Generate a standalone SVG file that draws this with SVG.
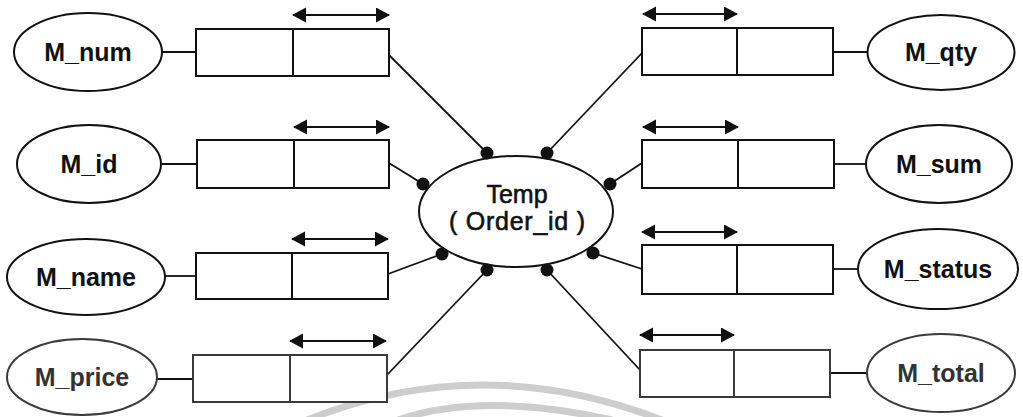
<svg xmlns="http://www.w3.org/2000/svg" width="1023" height="417" viewBox="0 0 1023 417">
<style>
  .bg{fill:#ffffff}
  .ell{fill:#ffffff;stroke:#111;stroke-width:2}
  .box{fill:#ffffff;stroke:#111;stroke-width:2}
  .div{stroke:#111;stroke-width:2}
  .ln{stroke:#111;stroke-width:1.8;fill:none}
  .arr{stroke:#111;stroke-width:2;fill:none;marker-start:url(#ah);marker-end:url(#ah)}
  .dot{fill:#111}
  .lbl{font-family:"Liberation Sans",Arial,sans-serif;font-size:25px;font-weight:bold;fill:#111;text-anchor:middle}
  .ctr{font-family:"Liberation Sans",Arial,sans-serif;font-size:25px;fill:#111;stroke:#111;stroke-width:0.6;text-anchor:middle}
  .gray .ell,.gray .box{stroke:#3a3a3a}
  .gray .div{stroke:#3a3a3a}
  .gray .lbl{fill:#333}
  .wm{fill:none;stroke:#cdcdcd;stroke-width:7}
</style>
<defs>
  <marker id="ah" markerUnits="userSpaceOnUse" markerWidth="15" markerHeight="16" refX="13" refY="7.5" orient="auto-start-reverse">
    <path d="M0,0 L14,7.5 L0,15 z" fill="#111"/>
  </marker>
</defs>
<rect class="bg" x="0" y="0" width="1023" height="417"/>

<g id="watermark">
  <path class="wm" d="M307,420 Q482,350 662,420"/>
  <path class="wm" d="M398,420 Q482,391 612,420"/>
</g>

<g id="connectors">
  <line class="ln" x1="162" y1="52" x2="196" y2="52"/>
  <line class="ln" x1="161" y1="164" x2="197" y2="164"/>
  <line class="ln" x1="165" y1="276" x2="196" y2="276"/>
  <line class="ln" x1="157" y1="379" x2="193" y2="379" stroke="#3a3a3a"/>
  <line class="ln" x1="833" y1="52" x2="868" y2="52"/>
  <line class="ln" x1="834" y1="164" x2="866" y2="164"/>
  <line class="ln" x1="833" y1="269" x2="858" y2="269"/>
  <line class="ln" x1="830" y1="373" x2="867" y2="373" stroke="#3a3a3a"/>
  <line class="ln" x1="389" y1="55" x2="487" y2="153"/>
  <line class="ln" x1="389" y1="163" x2="423" y2="184"/>
  <line class="ln" x1="388" y1="274" x2="442" y2="254"/>
  <line class="ln" x1="387" y1="375" x2="487" y2="270" stroke="#333"/>
  <line class="ln" x1="642" y1="53" x2="547" y2="153"/>
  <line class="ln" x1="642" y1="163" x2="610" y2="184"/>
  <line class="ln" x1="642" y1="269" x2="593" y2="253"/>
  <line class="ln" x1="640" y1="370" x2="547" y2="270" stroke="#333"/>
  <line class="arr" x1="293" y1="15" x2="389" y2="15"/>
  <line class="arr" x1="294" y1="127" x2="389" y2="127"/>
  <line class="arr" x1="292" y1="239" x2="388" y2="239"/>
  <line class="arr" x1="290" y1="341" x2="386" y2="341"/>
  <line class="arr" x1="643" y1="14" x2="737" y2="14"/>
  <line class="arr" x1="643" y1="127" x2="738" y2="127"/>
  <line class="arr" x1="642" y1="232" x2="737" y2="232"/>
  <line class="arr" x1="640" y1="335" x2="734" y2="335"/>
</g>

<g id="center">
  <ellipse class="ell" cx="516" cy="211.5" rx="97" ry="55.5"/>
  <text class="ctr" x="517" y="203">Temp</text>
  <text class="ctr" x="517" y="230" textLength="136" lengthAdjust="spacing">( Order_id )</text>
  <circle class="dot" cx="487" cy="153" r="6.5"/>
  <circle class="dot" cx="547" cy="153" r="6.5"/>
  <circle class="dot" cx="423" cy="184" r="6.5"/>
  <circle class="dot" cx="610" cy="184" r="6.5"/>
  <circle class="dot" cx="442" cy="254" r="6.5"/>
  <circle class="dot" cx="593" cy="253" r="6.5"/>
  <circle class="dot" cx="487" cy="270" r="6.5"/>
  <circle class="dot" cx="547" cy="270" r="6.5"/>
</g>

<g id="node-M_num">
  <ellipse class="ell" cx="88" cy="52" rx="74" ry="39"/>
  <text class="lbl" x="88" y="61">M_num</text>
</g>
<g id="box-M_num">
  <rect class="box" x="196" y="29" width="193" height="47"/>
  <line class="div" x1="293" y1="29" x2="293" y2="76"/>
</g>

<g id="node-M_id">
  <ellipse class="ell" cx="89" cy="164" rx="72" ry="39"/>
  <text class="lbl" x="89" y="173">M_id</text>
</g>
<g id="box-M_id">
  <rect class="box" x="197" y="140" width="192" height="48"/>
  <line class="div" x1="294" y1="140" x2="294" y2="188"/>
</g>

<g id="node-M_name">
  <ellipse class="ell" cx="86" cy="277" rx="79" ry="38"/>
  <text class="lbl" x="86" y="286">M_name</text>
</g>
<g id="box-M_name">
  <rect class="box" x="196" y="253" width="192" height="46"/>
  <line class="div" x1="292" y1="253" x2="292" y2="299"/>
</g>

<g id="node-M_price" class="gray">
  <ellipse class="ell" cx="82" cy="377" rx="75" ry="38"/>
  <text class="lbl" x="82" y="386">M_price</text>
</g>
<g id="box-M_price" class="gray">
  <rect class="box" x="193" y="355" width="194" height="47"/>
  <line class="div" x1="290" y1="355" x2="290" y2="402"/>
</g>

<g id="node-M_qty">
  <ellipse class="ell" cx="941" cy="52.5" rx="73.5" ry="37.5"/>
  <text class="lbl" x="941" y="61">M_qty</text>
</g>
<g id="box-M_qty">
  <rect class="box" x="642" y="28" width="191" height="47"/>
  <line class="div" x1="737" y1="28" x2="737" y2="75"/>
</g>

<g id="node-M_sum">
  <ellipse class="ell" cx="939" cy="164" rx="73" ry="39"/>
  <text class="lbl" x="939" y="173">M_sum</text>
</g>
<g id="box-M_sum">
  <rect class="box" x="642" y="140" width="192" height="48"/>
  <line class="div" x1="738" y1="140" x2="738" y2="188"/>
</g>

<g id="node-M_status">
  <ellipse class="ell" cx="938" cy="269" rx="80" ry="40"/>
  <text class="lbl" x="938" y="278">M_status</text>
</g>
<g id="box-M_status">
  <rect class="box" x="642" y="245" width="191" height="49"/>
  <line class="div" x1="737" y1="245" x2="737" y2="294"/>
</g>

<g id="node-M_total" class="gray">
  <ellipse class="ell" cx="941" cy="373" rx="74" ry="39"/>
  <text class="lbl" x="941" y="382">M_total</text>
</g>
<g id="box-M_total" class="gray">
  <rect class="box" x="640" y="350" width="190" height="47"/>
  <line class="div" x1="734" y1="350" x2="734" y2="397"/>
</g>
</svg>
